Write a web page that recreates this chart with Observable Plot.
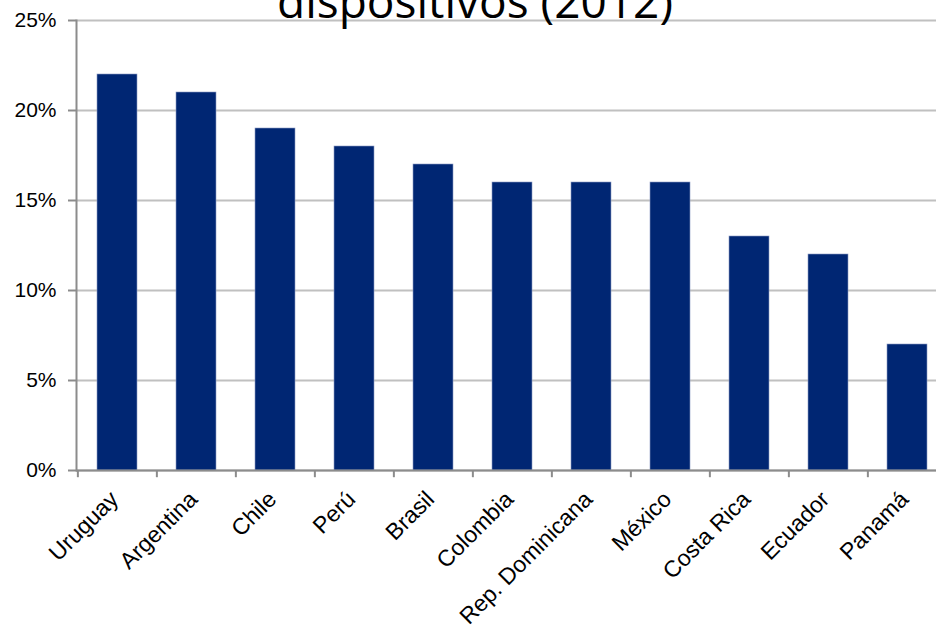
<!DOCTYPE html>
<html><head><meta charset="utf-8">
<script src="https://cdn.jsdelivr.net/npm/d3@7"></script>
<script src="https://cdn.jsdelivr.net/npm/@observablehq/plot@0.6"></script>
<style>
body{margin:0;background:#fff;overflow:hidden}
#wrap{position:relative;width:936px;height:637px;overflow:hidden}
#title{position:absolute;left:0;width:950px;top:-28px;text-align:center;font-family:"Open Sans",sans-serif;font-size:46px;line-height:56px;color:#000;z-index:2}
#chart svg{overflow:visible}
</style></head>
<body><div id="wrap"><div id="title">dispositivos (2012)</div><div id="chart"></div></div>
<script>
const countries = ["Uruguay","Argentina","Chile","Perú","Brasil","Colombia","Rep. Dominicana","México","Costa Rica","Ecuador","Panamá"];
const values = [22,21,19,18,17,16,16,16,13,12,7];
const yTicks = [0,5,10,15,20,25];

const data = countries.map((c,i)=>({country:c, value:values[i]}));
const W = 936, ML = 76, MR = -12;
const step = (W - ML - MR) / countries.length;
const gray = "#8c8c8c";

const chart = Plot.plot({
  width: W, height: 637,
  marginTop: 20, marginBottom: 167, marginLeft: ML, marginRight: MR,
  style: {fontFamily: "'Liberation Sans', Arial, sans-serif", background: "transparent", overflow: "visible"},
  x: {domain: countries, paddingInner: 0.5, paddingOuter: 0.25, axis: null, label: null},
  y: {domain: [0,25], axis: null, label: null},
  marks: [
    Plot.gridY(yTicks, {stroke: "#c0c0c0", strokeOpacity: 1, strokeWidth: 2}),
    Plot.barY(data, {x: "country", y: "value", fill: "#002673", stroke: "#8a9ac4", strokeWidth: 0.6}),
    Plot.ruleY([0], {stroke: gray, strokeWidth: 2}),
    Plot.frame({anchor: "left", stroke: gray, strokeWidth: 2}),
    Plot.ruleX(countries, {x: d => d, y1: 0, y2: -0.4, dx: -step/2, stroke: gray, strokeWidth: 2}),
    Plot.axisY(yTicks, {tickSize: 8, tickFormat: () => "", color: gray, strokeWidth: 2, label: null}),
    Plot.axisY(yTicks, {tickSize: 0, tickPadding: 20, tickFormat: d => d + "%", fontSize: 21, color: "#000", label: null}),
    Plot.axisX(countries, {tickSize: 0, tickPadding: 25, tickRotate: -45, fontSize: 23, color: "#000", dx: -3, label: null})
  ]
});
document.getElementById("chart").appendChild(chart);
</script>
</body></html>
